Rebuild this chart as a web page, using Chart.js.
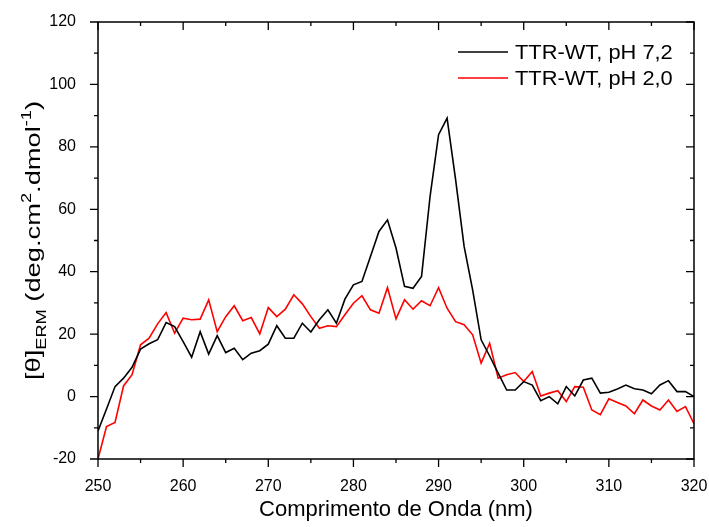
<!DOCTYPE html>
<html>
<head>
<meta charset="utf-8">
<script src="https://cdn.jsdelivr.net/npm/chart.js@4"></script>
<style>
  html, body { margin: 0; padding: 0; background: #fff; }
  #chart { display: block; }
</style>
</head>
<body>
<canvas id="chart" width="709" height="527"></canvas>
<script>
// wavelength (nm)
const wavelengths = [
  250, 251, 252, 253, 254, 255, 256, 257, 258, 259,
  260, 261, 262, 263, 264, 265, 266, 267, 268, 269,
  270, 271, 272, 273, 274, 275, 276, 277, 278, 279,
  280, 281, 282, 283, 284, 285, 286, 287, 288, 289,
  290, 291, 292, 293, 294, 295, 296, 297, 298, 299,
  300, 301, 302, 303, 304, 305, 306, 307, 308, 309,
  310, 311, 312, 313, 314, 315, 316, 317, 318, 319,
  320
];

// TTR-WT, pH 7,2
const ph72 = [
  -11, -4, 3.2, 5.9, 9.4, 15.2, 16.9, 18.2, 23.7, 22.4,
  17.6, 12.6, 20.8, 13.6, 19.5, 14.1, 15.5, 11.8, 13.9, 14.7,
  16.8, 22.7, 18.7, 18.7, 23.5, 20.7, 24.6, 27.8, 23.5, 31.2,
  35.8, 36.9, 44.9, 52.9, 56.6, 47.6, 35.3, 34.7, 38.5, 64.1,
  83.9, 89.2, 69.5, 48.1, 34.2, 18.2, 13, 7.5, 2.1, 2.1,
  4.8, 3.7, -1.3, 0, -2.3, 3.2, 0.2, 5.3, 5.9, 1.1,
  1.4, 2.4, 3.7, 2.5, 2.1, 0.9, 3.7, 5.1, 1.6, 1.6,
  0
];

// TTR-WT, pH 2,0
const ph20 = [
  -20, -9.6, -8.3, 3.4, 7.0, 16.6, 18.7, 23.3, 26.9, 20.3,
  25.1, 24.6, 24.8, 31.0, 20.8, 25.6, 29.1, 24.3, 25.3, 20.1,
  28.5, 25.6, 28.0, 32.6, 29.7, 25.6, 21.9, 22.7, 22.4, 26.2,
  29.9, 32.3, 27.8, 26.7, 34.9, 24.9, 31.0, 28.0, 30.7, 29.1,
  34.9, 28.3, 24.0, 23.0, 19.8, 10.7, 17.1, 5.9, 7.0, 7.7,
  4.8, 8.0, 0.2, 1.1, 1.9, -1.6, 3.2, 3.0, -4.3, -5.8,
  -0.7, -1.9, -3.0, -5.5, -1.1, -3.0, -4.3, -1.1, -4.8, -3.2,
  -8.7
];

const seriesLabels = ["TTR-WT, pH 7,2", "TTR-WT, pH 2,0"];
const seriesColors = ["#000000", "#ff0000"];

const xTitle = "Comprimento de Onda (nm)";

const FONT = '"Liberation Sans", Arial, sans-serif';

function toPoints(vals) {
  return wavelengths.map((w, i) => ({ x: w, y: vals[i] }));
}

// -------------------
// frame + ticks (Origin style), legend, y title
// -------------------
const framePlugin = {
  id: "frame",
  afterDraw(chart) {
    const ctx = chart.ctx;
    const a = chart.chartArea;
    const xs = chart.scales.x, ys = chart.scales.y;
    ctx.save();
    ctx.strokeStyle = "#000";
    ctx.lineWidth = 1.5;
    ctx.strokeRect(a.left, a.top, a.right - a.left, a.bottom - a.top);

    ctx.lineWidth = 1.3;
    ctx.beginPath();
    xs.ticks.forEach(t => {
      const px = xs.getPixelForValue(t.value);
      const len = t.value % 10 === 0 ? 8 : 4;
      ctx.moveTo(px, a.bottom); ctx.lineTo(px, a.bottom + len);
      ctx.moveTo(px, a.top);    ctx.lineTo(px, a.top + len);
    });
    ys.ticks.forEach(t => {
      const py = ys.getPixelForValue(t.value);
      const len = t.value % 20 === 0 ? 8 : 4;
      ctx.moveTo(a.left, py);  ctx.lineTo(a.left - len, py);
      ctx.moveTo(a.right, py); ctx.lineTo(a.right - len, py);
    });
    ctx.stroke();

    // legend
    ctx.font = "21px " + FONT;
    ctx.textBaseline = "middle";
    ctx.fillStyle = "#000";
    seriesLabels.forEach((lab, i) => {
      const y = 52 + i * 26;
      ctx.strokeStyle = seriesColors[i];
      ctx.lineWidth = 1.5;
      ctx.beginPath();
      ctx.moveTo(458, y); ctx.lineTo(508, y);
      ctx.stroke();
      ctx.save();
      ctx.translate(515, y + 1);
      ctx.scale(1.04, 1);
      ctx.fillText(lab, 0, 0);
      ctx.restore();
    });

    // y title with sub/superscripts
    const parts = [
      ["[\u03b8]", 21, 0],
      ["ERM", 14, 6],
      [" (deg.cm", 21, 0],
      ["2", 14, -9],
      [".dmol", 21, 0],
      ["-1", 14, -9],
      [")", 21, 0]
    ];
    let total = 0;
    parts.forEach(p => { ctx.font = p[1] + "px " + FONT; total += ctx.measureText(p[0]).width; });
    ctx.translate(33, (a.top + a.bottom) / 2);
    ctx.rotate(-Math.PI / 2);
    ctx.scale(1.3, 1);
    ctx.textBaseline = "alphabetic";
    let x = -total / 2;
    parts.forEach(p => {
      ctx.font = p[1] + "px " + FONT;
      ctx.fillText(p[0], x, 7 + p[2]);
      x += ctx.measureText(p[0]).width;
    });
    ctx.restore();
  }
};

const chart = new Chart(document.getElementById("chart").getContext("2d"), {
  type: "line",
  data: {
    datasets: [
      { label: seriesLabels[0], data: toPoints(ph72), borderColor: seriesColors[0], borderWidth: 1.6, pointRadius: 0, tension: 0, fill: false },
      { label: seriesLabels[1], data: toPoints(ph20), borderColor: seriesColors[1], borderWidth: 1.6, pointRadius: 0, tension: 0, fill: false }
    ]
  },
  options: {
    responsive: false,
    animation: false,
    devicePixelRatio: 1,
    layout: { padding: { left: 0, right: 15, top: 22, bottom: 0 } },
    plugins: { legend: { display: false }, tooltip: { enabled: false } },
    scales: {
      x: {
        type: "linear",
        min: 250, max: 320,
        afterFit: s => { s.height = 68; s.paddingLeft = 0; s.paddingRight = 0; },
        grid: { display: false },
        border: { display: false },
        ticks: {
          stepSize: 5, autoSkip: false, maxRotation: 0, padding: 10,
          color: "#000", font: { family: FONT, size: 16 },
          callback: v => (v % 10 === 0 ? v : "")
        },
        title: { display: true, text: xTitle, color: "#000", font: { family: FONT, size: 22 }, padding: { top: 3 } }
      },
      y: {
        min: -20, max: 120,
        afterFit: s => { s.width = 98; s.paddingTop = 0; s.paddingBottom = 0; },
        grid: { display: false },
        border: { display: false },
        ticks: {
          stepSize: 10, autoSkip: false, padding: 14,
          color: "#000", font: { family: FONT, size: 16 },
          callback: v => (v % 20 === 0 ? v : "")
        }
      }
    }
  },
  plugins: [framePlugin]
});
</script>
</body>
</html>
